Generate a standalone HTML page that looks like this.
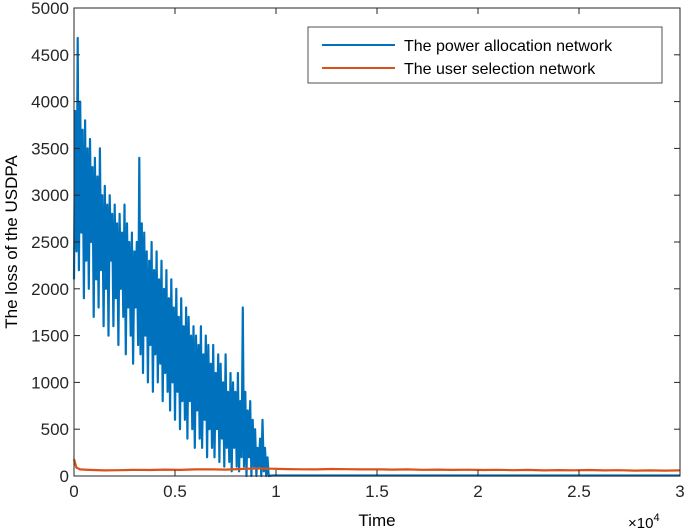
<!DOCTYPE html>
<html><head><meta charset="utf-8"><style>
body{margin:0;background:#fff;}
svg{display:block;font-family:"Liberation Sans",Arial,sans-serif;}
</style></head><body>
<svg id="chart" width="685" height="530" viewBox="0 0 685 530">
<g id="plot"></g>
<g id="axes"></g>
<text x="377" y="526" font-size="17" text-anchor="middle">Time</text>
<text transform="translate(17,242) rotate(-90)" font-size="17" text-anchor="middle">The loss of the USDPA</text>
<text x="628" y="528" font-size="15">×10<tspan font-size="11" dy="-7">4</tspan></text>
<g>
<rect x="308" y="27" width="354" height="56" fill="#fff" stroke="#262626" stroke-width="0.8"/>
<line x1="322" y1="45" x2="395" y2="45" stroke="#0072BD" stroke-width="2"/>
<text x="404" y="51" font-size="16">The power allocation network</text>
<line x1="322" y1="68" x2="395" y2="68" stroke="#D95319" stroke-width="2"/>
<text x="404" y="74" font-size="16">The user selection network</text>
</g>
</svg>
<script>
const xTicks=[0,0.5,1,1.5,2,2.5,3];
const xTickLabels=["0","0.5","1","1.5","2","2.5","3"];
const yTicks=[0,500,1000,1500,2000,2500,3000,3500,4000,4500,5000];
const blueStep=61;
const blueValues=[2100,3900,2400,4680,2200,4000,2600,3700,1900,3800,2300,3500,2000,3600,2500,3300,1700,3400,2100,3200,1800,3500,2200,3000,1600,3100,2000,2900,1500,3000,
2300,2800,1600,2900,1900,2700,1400,2800,2000,2600,1700,2900,1300,2700,1800,2500,1500,2600,1200,2400,
1800,2500,1400,3400,1300,2700,1100,2600,1500,2400,1000,2300,1400,2500,900,2200,1300,2400,1000,2100,
1200,2300,800,2000,1100,2200,900,1900,700,2100,1000,1800,600,2000,900,1700,500,1900,800,1600,
600,1800,400,1700,800,1500,500,1600,300,1500,700,1400,400,1600,300,1300,600,1500,200,1400,
500,1200,300,1400,200,1100,500,1300,150,1200,400,1000,100,1300,300,900,150,1100,50,1000,
300,900,100,1100,50,800,200,1800,100,900,0,700,200,800,0,600,100,500,0,300,
100,400,0,600,50,300,0,200,0];
const blueTailTimes=[9800,30000];
const blueTailValues=[5,5];
const orangeTimes=[0,120,300,750,1500,2250,3000,3750,4500,5250,6000,6750,7500,8250,9000,9750,10500,11250,12000,12750,13500,14250,15000,15750,16500,17250,18000,18750,19500,20250,21000,21750,22500,23250,24000,24750,25500,26250,27000,27750,28500,29250,30000];
const orangeValues=[180,90,70,65,60,62,66,64,68,65,70,72,68,75,80,78,74,72,70,75,73,70,72,68,70,66,68,65,67,64,66,62,65,60,63,61,64,60,62,58,60,58,60];

const X0=74,X1=680,Y0=476,Y1=8;
const sx=t=>X0+(t/30000)*(X1-X0);
const sy=v=>Y0-(v/5000)*(Y0-Y1);
const NS="http://www.w3.org/2000/svg";
const plot=document.getElementById('plot'),axes=document.getElementById('axes');
function mk(tag,attrs,parent){const e=document.createElementNS(NS,tag);for(const k in attrs)e.setAttribute(k,attrs[k]);parent.appendChild(e);return e;}

let pts=blueValues.map((v,i)=>sx(i*blueStep).toFixed(1)+','+sy(v).toFixed(1));
blueTailTimes.forEach((t,i)=>pts.push(sx(t).toFixed(1)+','+sy(blueTailValues[i]).toFixed(1)));
const bl=mk('polyline',{points:pts.join(' '),fill:'none',stroke:'#0072BD','stroke-width':2.2,'stroke-linejoin':'round'},plot);


const op=orangeValues.map((v,i)=>sx(orangeTimes[i]).toFixed(1)+','+sy(v).toFixed(1)).join(' ');
const ol=mk('polyline',{points:op,fill:'none',stroke:'#D95319','stroke-width':2.2},plot);



const box=mk('rect',{x:X0,y:Y1,width:X1-X0,height:Y0-Y1,fill:'none',stroke:'#262626','stroke-width':1},axes);


xTicks.forEach((t,i)=>{
  const x=sx(t*10000);
  mk('line',{x1:x,y1:Y0,x2:x,y2:Y0-6,stroke:'#262626'},axes);
  mk('line',{x1:x,y1:Y1,x2:x,y2:Y1+6,stroke:'#262626'},axes);
  const tx=mk('text',{x:x,y:Y0+21,'font-size':17,'text-anchor':'middle',fill:'#262626'},axes);
  tx.textContent=xTickLabels[i];
  
  
});
yTicks.forEach(v=>{
  const y=sy(v);
  mk('line',{x1:X0,y1:y,x2:X0+6,y2:y,stroke:'#262626'},axes);
  mk('line',{x1:X1,y1:y,x2:X1-6,y2:y,stroke:'#262626'},axes);
  const tx=mk('text',{x:X0-5,y:y+6,'font-size':17,'text-anchor':'end',fill:'#262626'},axes);
  tx.textContent=String(v);
  
  
});
</script>
</body></html>
